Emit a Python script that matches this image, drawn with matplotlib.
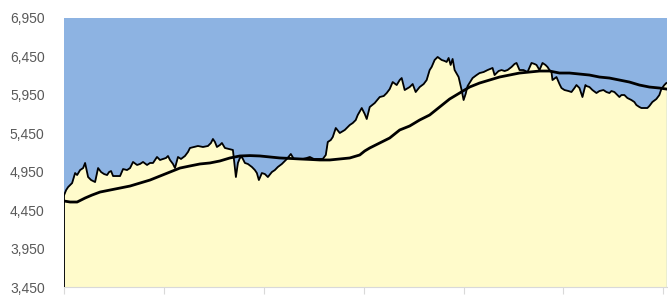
import matplotlib
matplotlib.use("Agg")
import matplotlib.pyplot as plt

AZUL = "#8DB3E2"
CREMA = "#FFFBCB"
GRIS = "#595959"

# sesiones (indice) y cierre
dias = [0, 2, 4, 8, 11, 13, 16, 19, 21, 24, 27, 31, 34, 37, 40, 43, 45, 47, 49, 53,
        56, 59, 63, 66, 69, 73, 76, 79, 83, 86, 89, 93, 96, 99, 102, 104, 106, 109, 111, 114,
        117, 121, 124, 126, 130, 134, 139, 144, 147, 149, 151, 153, 156, 158, 161, 165, 169, 172, 174, 176,
        178, 181, 184, 188, 191, 193, 195, 198, 201, 204, 208, 211, 214, 218, 223, 227, 230, 234, 239, 243,
        246, 250, 253, 257, 259, 262, 264, 267, 269, 272, 276, 281, 286, 289, 292, 294, 298, 301, 303, 306,
        311, 316, 320, 323, 326, 329, 333, 336, 338, 341, 346, 349, 352, 356, 360, 363, 366, 368, 371, 374,
        378, 381, 383, 385, 387, 389, 391, 395, 398, 400, 402, 404, 409, 413, 416, 420, 424, 429, 431, 435,
        438, 441, 444, 448, 451, 453, 456, 460, 464, 468, 471, 473, 476, 479, 482, 484, 486, 488, 489, 493,
        496, 498, 501, 505, 508, 511, 513, 516, 519, 522, 523, 526, 529, 533, 536, 540, 543, 546, 548, 551,
        553, 556, 558, 561, 564, 568, 571, 573, 576, 578, 581, 584, 586, 589, 593, 596, 598, 601, 603]
cierre = [4647, 4712, 4751, 4803, 4933, 4907, 4972, 4998, 5064, 4881, 4842, 4816, 4998, 4946, 4920, 4907, 4946, 4959, 4894, 4894,
          4894, 4985, 4972, 4998, 5077, 5038, 5051, 5077, 5038, 5064, 5064, 5142, 5103, 5116, 5129, 5155, 5103, 5051, 4998, 5142,
          5116, 5155, 5207, 5259, 5272, 5285, 5272, 5285, 5324, 5376, 5337, 5272, 5298, 5324, 5259, 5246, 5233, 4881, 5064, 5129,
          5142, 5064, 5051, 5012, 4972, 4933, 4842, 4933, 4920, 4881, 4946, 4972, 5012, 5051, 5116, 5181, 5116, 5116, 5116, 5129,
          5142, 5116, 5116, 5116, 5116, 5168, 5337, 5363, 5402, 5519, 5454, 5493, 5558, 5584, 5623, 5688, 5779, 5701, 5636, 5792,
          5844, 5922, 5935, 5974, 6026, 6117, 6078, 6143, 6169, 6013, 6052, 6091, 5987, 6052, 6091, 6143, 6273, 6313, 6404, 6443,
          6404, 6391, 6378, 6430, 6339, 6417, 6273, 6182, 6013, 5883, 5961, 6065, 6169, 6208, 6234, 6247, 6273, 6300, 6208, 6260,
          6273, 6260, 6273, 6313, 6352, 6365, 6273, 6273, 6247, 6365, 6352, 6339, 6273, 6365, 6339, 6313, 6273, 6247, 6143, 6182,
          6091, 6039, 6013, 6000, 5987, 6039, 6078, 6039, 5922, 6078, 6065, 6052, 6013, 5974, 6000, 6013, 5987, 5974, 6000, 5987,
          5961, 5922, 5948, 5948, 5909, 5883, 5857, 5818, 5792, 5779, 5779, 5779, 5805, 5857, 5896, 5948, 6026, 6078, 6104]

# media movil
dias_mm = [0, 6, 13, 21, 28, 36, 46, 56, 66, 76, 86, 96, 106, 116, 126, 136, 146, 156, 166, 176,
           186, 196, 206, 216, 226, 236, 246, 256, 266, 276, 286, 296, 301, 306, 316, 326, 336, 346, 356, 366,
           376, 386, 396, 406, 416, 426, 436, 446, 456, 466, 476, 486, 496, 506, 516, 526, 536, 546, 556, 566,
           576, 586, 596, 603]
media = [4569, 4556, 4556, 4608, 4647, 4686, 4712, 4738, 4764, 4803, 4842, 4894, 4946, 4998, 5025, 5051, 5064, 5090, 5129, 5155,
         5160, 5155, 5142, 5129, 5123, 5116, 5110, 5103, 5103, 5116, 5129, 5168, 5220, 5259, 5324, 5389, 5493, 5545, 5623, 5688,
         5792, 5896, 5974, 6052, 6104, 6143, 6182, 6208, 6234, 6247, 6260, 6260, 6234, 6234, 6221, 6208, 6182, 6169, 6143, 6117,
         6078, 6052, 6039, 6026]

yticks = [3450, 3950, 4450, 4950, 5450, 5950, 6450, 6950]
xticks = [0, 100, 200, 300, 400, 500, 600]

fig = plt.figure(figsize=(6.68, 2.95), dpi=100)
ax = fig.add_axes([0.096, 0.027, 0.903, 0.912])
ax.set_facecolor(AZUL)
ax.fill_between(dias, cierre, yticks[0], color=CREMA, linewidth=0, zorder=2)
ax.plot(dias, cierre, color="black", linewidth=1.3, zorder=3)
ax.vlines(dias[0], yticks[0], cierre[0], color="black", linewidth=1.3, zorder=3)
ax.plot(dias_mm, media, color="black", linewidth=2.0, zorder=4)

ax.set_xlim(0, 604)
ax.set_ylim(yticks[0], yticks[-1])
ax.set_yticks(yticks)
ax.set_yticklabels([f"{v:,}" for v in yticks], fontsize=10, color=GRIS, family="Liberation Sans")
ax.set_xticks(xticks)
ax.set_xticklabels([])
ax.tick_params(axis="y", length=0, pad=14)
ax.tick_params(axis="x", length=5, color="#D9D9D9", direction="out")
for s in ["top", "right", "left"]:
    ax.spines[s].set_visible(False)
ax.spines["bottom"].set_color("#D9D9D9")

fig.savefig("out.png", dpi=100, facecolor="white")
